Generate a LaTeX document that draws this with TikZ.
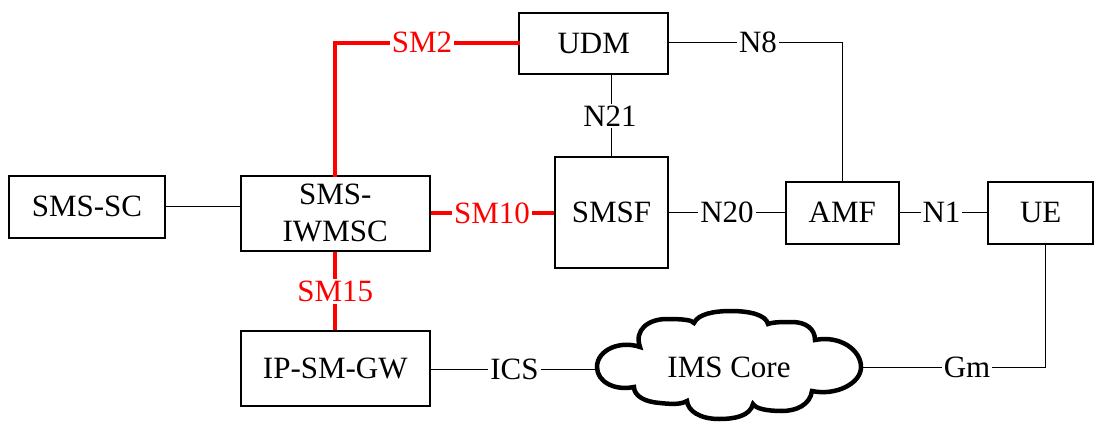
\documentclass[tikz,border=0pt]{standalone}
\usepackage{fontspec}
\setmainfont{Liberation Serif}
\begin{document}
\begin{tikzpicture}[x=1pt,y=-1pt,
  box/.style={draw=black,line width=2pt,fill=white,inner sep=0pt,align=center,
    font=\fontsize{31}{37}\selectfont},
  lbl/.style={fill=white,inner sep=2pt,font=\fontsize{31}{37}\selectfont},
  redlbl/.style={lbl,text=red},
  conn/.style={draw=black,line width=1pt},
  redconn/.style={draw=red,line width=4pt},
  cloudline/.style={draw=black,line width=4.5pt,fill=white,line join=miter},
  cloudtext/.style={inner sep=0pt,font=\fontsize{31}{37}\selectfont}]
\useasboundingbox (0,0) rectangle (1095,423);

\node[box,minimum width=156pt,minimum height=62pt] (smssc) at (87,206.7) {SMS-SC};
\node[box,minimum width=189pt,minimum height=75pt] (iwmsc) at (335.2,213.3) {SMS-\\IWMSC};
\node[box,minimum width=148.7pt,minimum height=61.3pt] (udm) at (593.7,43.3) {UDM};
\node[box,minimum width=113pt,minimum height=111pt] (smsf) at (611.5,212.2) {SMSF};
\node[box,minimum width=113.3pt,minimum height=62pt] (amf) at (842.3,212.7) {AMF};
\node[box,minimum width=105pt,minimum height=62pt] (ue) at (1040.7,212.7) {UE};
\node[box,minimum width=189pt,minimum height=75pt] (ipsm) at (335.3,368.5) {IP-SM-GW};

% cloud outline
\draw[cloudline]
  (640,347) .. controls (634,330) and (648,319) .. (667,319)
            .. controls (683,319) and (692,320) .. (694,323)
            .. controls (698,314) and (714,311) .. (731,311)
            .. controls (750,311) and (766,315) .. (768,324)
            .. controls (773,322) and (783,322) .. (792,322)
            .. controls (806,322) and (815,329) .. (815,340)
            .. controls (840,335) and (861,350) .. (861,367)
            .. controls (861,384) and (835,396) .. (812,391)
            .. controls (810,405) and (796,411) .. (782,411)
            .. controls (768,411) and (756,409) .. (753,404)
            .. controls (750,416) and (735,419) .. (719,419)
            .. controls (700,419) and (688,411) .. (687,401)
            .. controls (680,405) and (670,404) .. (660,403)
            .. controls (645,402) and (634,396) .. (634,387)
            .. controls (615,391) and (597,382) .. (597,367)
            .. controls (597,350) and (620,340) .. (640,347) -- cycle;
\node[cloudtext] (ims) at (729,367) {IMS Core};
\coordinate (imsw) at (597,369);
\coordinate (imse) at (861,367.7);

\coordinate (sm2corner) at (335.2,42.7);
\coordinate (n8corner) at (842.3,42.7);
\coordinate (gmcorner) at (1045,367.7);

% black connectors
\draw[conn] (smssc.east) -- (smssc.east -| iwmsc.west);
\draw[conn] (udm.east |- n8corner) -- (n8corner) -- (amf.north);
\draw[conn] (smsf.north) -- (smsf.north |- udm.south);
\draw[conn] (smsf.east |- amf.west) -- (amf.west);
\draw[conn] (amf.east) -- (ue.west);
\draw[conn] (ipsm.east |- imsw) -- (imsw);
\draw[conn] (imse) -- (gmcorner) -- (gmcorner |- ue.south);

% red connectors
\draw[redconn,line cap=rect] (iwmsc.north) -- (sm2corner) -- (sm2corner -| udm.west);
\draw[redconn] (iwmsc.east) -- (iwmsc.east -| smsf.west);
\draw[redconn] (iwmsc.south) -- (iwmsc.south |- ipsm.north);

% labels
\node[redlbl] (lsm2) at (422,42.7) {SM2};
\node[lbl] (ln8) at (758,42.7) {N8};
\node[lbl] (ln21) at (610,116) {N21};
\node[redlbl] (lsm10) at (492,213.3) {SM10};
\node[lbl] (ln20) at (727,212.3) {N20};
\node[lbl] (ln1) at (941.5,212.3) {N1};
\node[redlbl] (lsm15) at (335.3,291.5) {SM15};
\node[lbl] (lics) at (514.5,369) {ICS};
\node[lbl,text depth=0pt] (lgm) at (967,367.7) {Gm};
\end{tikzpicture}
\end{document}
